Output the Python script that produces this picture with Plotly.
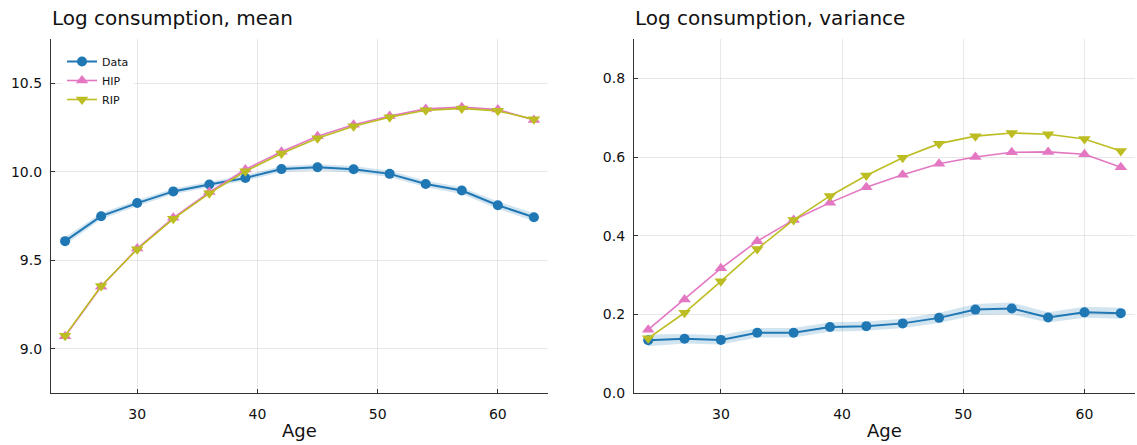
import plotly.graph_objects as go

ages = [24, 27, 30, 33, 36, 39, 42, 45, 48, 51, 54, 57, 60, 63]

data_mean = [9.608, 9.749, 9.823, 9.889, 9.928, 9.965, 10.015, 10.025, 10.014, 9.988, 9.931, 9.894, 9.811, 9.743]
data_mean_band = [0.022, 0.018, 0.016, 0.016, 0.016, 0.016, 0.017, 0.018, 0.018, 0.018, 0.018, 0.019, 0.021, 0.022]
hip_mean = [9.070, 9.350, 9.566, 9.740, 9.885, 10.013, 10.113, 10.200, 10.265, 10.315, 10.355, 10.365, 10.351, 10.293]
rip_mean = [9.074, 9.355, 9.562, 9.734, 9.878, 10.003, 10.103, 10.189, 10.257, 10.308, 10.347, 10.358, 10.344, 10.296]

data_var = [0.134, 0.138, 0.135, 0.153, 0.153, 0.168, 0.170, 0.177, 0.191, 0.212, 0.215, 0.192, 0.205, 0.203]
data_var_band = [0.015, 0.012, 0.012, 0.012, 0.012, 0.012, 0.012, 0.012, 0.013, 0.014, 0.015, 0.013, 0.014, 0.014]
hip_var = [0.161, 0.238, 0.317, 0.386, 0.440, 0.484, 0.523, 0.555, 0.583, 0.600, 0.612, 0.613, 0.607, 0.574]
rip_var = [0.139, 0.204, 0.284, 0.366, 0.440, 0.501, 0.553, 0.598, 0.634, 0.653, 0.661, 0.658, 0.646, 0.615]

mean_yticks = [9.0, 9.5, 10.0, 10.5]
var_yticks = [0.0, 0.2, 0.4, 0.6, 0.8]
xticks = [30, 40, 50, 60]

BLUE = "#1f77b4"
PINK = "#e377c2"
OLIVE = "#bcbd22"
BAND = "rgba(31,119,180,0.2)"
FONT = "DejaVu Sans"

W, H = 1137, 445
fig = go.Figure()


def add_panel(xa, ya, mean, band, hip, rip, showlegend):
    lower = [m - b for m, b in zip(mean, band)]
    upper = [m + b for m, b in zip(mean, band)]
    fig.add_trace(go.Scatter(x=ages, y=lower, mode="lines", line=dict(width=0, color=BAND),
                             showlegend=False, hoverinfo="skip", xaxis=xa, yaxis=ya))
    fig.add_trace(go.Scatter(x=ages, y=upper, mode="lines", line=dict(width=0, color=BAND),
                             fill="tonexty", fillcolor=BAND,
                             showlegend=False, hoverinfo="skip", xaxis=xa, yaxis=ya))
    fig.add_trace(go.Scatter(x=ages, y=mean, mode="lines+markers", name="Data",
                             line=dict(color=BLUE, width=2),
                             marker=dict(symbol="circle", size=10, color=BLUE),
                             showlegend=showlegend, xaxis=xa, yaxis=ya))
    fig.add_trace(go.Scatter(x=ages, y=hip, mode="lines+markers", name="HIP",
                             line=dict(color=PINK, width=1.6),
                             marker=dict(symbol="triangle-up", size=11, color=PINK),
                             showlegend=showlegend, xaxis=xa, yaxis=ya))
    fig.add_trace(go.Scatter(x=ages, y=rip, mode="lines+markers", name="RIP",
                             line=dict(color=OLIVE, width=1.6),
                             marker=dict(symbol="triangle-down", size=11, color=OLIVE),
                             showlegend=showlegend, xaxis=xa, yaxis=ya))


add_panel("x", "y", data_mean, data_mean_band, hip_mean, rip_mean, True)
add_panel("x2", "y2", data_var, data_var_band, hip_var, rip_var, False)

ydom = [(H - 393) / H, (H - 39) / H]
axis_common = dict(
    showgrid=True, gridcolor="rgba(0,0,0,0.09)", gridwidth=1,
    showline=True, linecolor="#333333", linewidth=1.2,
    ticks="inside", ticklen=4, tickcolor="#333333", tickwidth=1,
    zeroline=False, automargin=False,
    tickfont=dict(family=FONT, size=14, color="#111111"),
)

fig.update_layout(
    width=W, height=H,
    margin=dict(l=0, r=0, t=0, b=0),
    paper_bgcolor="white", plot_bgcolor="white",
    font=dict(family=FONT, color="#111111"),
    xaxis=dict(domain=[51 / W, 548 / W], range=[22.83, 64.17], tickvals=xticks,
               anchor="y", ticklabelstandoff=8, **axis_common),
    yaxis=dict(domain=ydom, range=[8.75, 10.75], tickvals=mean_yticks, tickformat=".1f",
               anchor="x", ticklabelstandoff=5, **axis_common),
    xaxis2=dict(domain=[634 / W, 1135 / W], range=[22.83, 64.17], tickvals=xticks,
                anchor="y2", ticklabelstandoff=8, **axis_common),
    yaxis2=dict(domain=ydom, range=[0.0, 0.9], tickvals=var_yticks, tickformat=".1f",
                anchor="x2", ticklabelstandoff=5, **axis_common),
    legend=dict(x=62 / W, y=(H - 47) / H, xanchor="left", yanchor="top",
                bgcolor="white", borderwidth=0, font=dict(family=FONT, size=11),
                tracegroupgap=0, itemwidth=30, traceorder="normal"),
    showlegend=True,
)

annos = [
    dict(text="Log consumption, mean", x=50 / W, y=(H - 18) / H, xanchor="left", yanchor="middle",
         font=dict(size=20)),
    dict(text="Log consumption, variance", x=633 / W, y=(H - 18) / H, xanchor="left", yanchor="middle",
         font=dict(size=20)),
    dict(text="Age", x=(51 + 548) / 2 / W, y=(H - 430) / H, xanchor="center", yanchor="middle",
         font=dict(size=18)),
    dict(text="Age", x=(634 + 1135) / 2 / W, y=(H - 430) / H, xanchor="center", yanchor="middle",
         font=dict(size=18)),
]
for a in annos:
    a.update(xref="paper", yref="paper", showarrow=False)
    a["font"] = dict(family=FONT, color="#111111", **a["font"])
fig.update_layout(annotations=annos)

fig.write_html("out.html", config={"displayModeBar": False})

# remove the default page margin so the figure sits at the window's top-left corner
with open("out.html", "r", encoding="utf-8") as f:
    html = f.read()
html = html.replace("<head>", "<head><style>html,body{margin:0;padding:0;overflow:hidden;}</style>", 1)
with open("out.html", "w", encoding="utf-8") as f:
    f.write(html)
